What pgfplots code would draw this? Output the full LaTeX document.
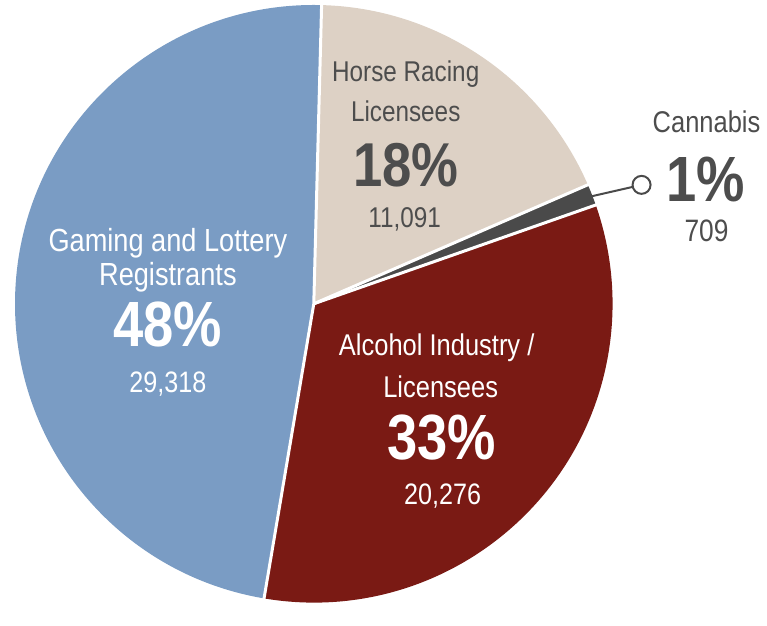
\documentclass[border=0pt]{standalone}
\usepackage{pgfplots}
\pgfplotsset{compat=1.18}
\usepackage{pgfplotstable}
\usepackage{fontspec}
\setmainfont{Liberation Sans}[FakeStretch=0.85]

\definecolor{gblue}{HTML}{7A9CC4}
\definecolor{gred}{HTML}{7A1A14}
\definecolor{gbeige}{HTML}{DDD1C5}
\definecolor{ggray}{HTML}{4A4A4A}
\definecolor{gtext}{HTML}{4D4D4D}

% slices, counter-clockwise from the top
\pgfplotstableread{
label value
Gaming 29318
Alcohol 20276
Cannabis 709
Horse 11091
}\piedata

\pgfplotstablegetelem{0}{value}\of\piedata \let\va\pgfplotsretval
\pgfplotstablegetelem{1}{value}\of\piedata \let\vb\pgfplotsretval
\pgfplotstablegetelem{2}{value}\of\piedata \let\vc\pgfplotsretval
\pgfplotstablegetelem{3}{value}\of\piedata \let\vd\pgfplotsretval
\edef\tot{\fpeval{\va+\vb+\vc+\vd}}
\def\aA{88.5}
\edef\aB{\fpeval{\aA+360*\va/\tot}}
\edef\aC{\fpeval{\aB+360*\vb/\tot}}
\edef\aD{\fpeval{\aC+360*\vc/\tot}}
\edef\aE{\fpeval{\aD+360*\vd/\tot}}
\edef\mC{\fpeval{(\aC+\aD)/2}}

\newcommand\lbl[1]{\fontsize{#1}{#1}\selectfont}

\begin{document}
\begin{tikzpicture}
\begin{axis}[
    hide axis,
    scale only axis,
    width=383.5pt, height=302.5pt,
    xmin=0, xmax=767, ymin=0, ymax=605,
    clip=false,
]
\path (axis cs:0,0) rectangle (axis cs:767,605);
% wedges
\fill[gblue] (axis cs:314,301) -- ++(\aA:149.5pt) arc[start angle=\aA, end angle=\aB, radius=149.5pt] -- cycle;
\fill[gred] (axis cs:314,301) -- ++(\aB:149.5pt) arc[start angle=\aB, end angle=\aC, radius=149.5pt] -- cycle;
\fill[ggray] (axis cs:314,301) -- ++(\aC:149.5pt) arc[start angle=\aC, end angle=\aD, radius=149.5pt] -- cycle;
\fill[gbeige] (axis cs:314,301) -- ++(\aD:149.5pt) arc[start angle=\aD, end angle=\aE, radius=149.5pt] -- cycle;
% white separators
\draw[white, line width=1.5pt] (axis cs:314,301) -- ++(\aA:151pt);
\draw[white, line width=1.5pt] (axis cs:314,301) -- ++(\aB:151pt);
\draw[white, line width=1.5pt] (axis cs:314,301) -- ++(\aC:151pt);
\draw[white, line width=1.5pt] (axis cs:314,301) -- ++(\aD:151pt);

% callout for cannabis
\draw[ggray, line width=1pt] (axis cs:314,301) ++(\mC:145pt) -- (axis cs:642,420);
\draw[ggray, line width=1pt, fill=white] (axis cs:642,420) circle[radius=4.5pt];

% labels
\node[anchor=base, text=white, font=\lbl{16}] at (axis cs:168,353) {Gaming and Lottery};
\node[anchor=base, text=white, font=\lbl{16}] at (axis cs:168,319) {Registrants};
\node[anchor=base, text=white, font=\lbl{32}\bfseries] at (axis cs:168,258) {48\%};
\node[anchor=base, text=white, font=\lbl{14.8}] at (axis cs:168,212) {29,318};

\node[anchor=base, text=white, font=\lbl{15}] at (axis cs:437,249) {Alcohol Industry /};
\node[anchor=base, text=white, font=\lbl{15}] at (axis cs:441,207) {Licensees};
\node[anchor=base, text=white, font=\lbl{32}\bfseries] at (axis cs:442,145) {33\%};
\node[anchor=base, text=white, font=\lbl{14.8}] at (axis cs:443,100) {20,276};

\node[anchor=base, text=gtext, font=\lbl{14.3}] at (axis cs:406,523) {Horse Racing};
\node[anchor=base, text=gtext, font=\lbl{14.3}] at (axis cs:406,483) {Licensees};
\node[anchor=base, text=gtext, font=\lbl{31}\bfseries] at (axis cs:406,418) {18\%};
\node[anchor=base, text=gtext, font=\lbl{14.3}] at (axis cs:405,377) {11,091};

\node[anchor=base, text=gtext, font=\lbl{15}] at (axis cs:707,472) {Cannabis};
\node[anchor=base, text=gtext, font=\lbl{32}\bfseries] at (axis cs:706,403) {1\%};
\node[anchor=base, text=gtext, font=\lbl{15.5}] at (axis cs:707,363) {709};
\end{axis}
\end{tikzpicture}
\end{document}
